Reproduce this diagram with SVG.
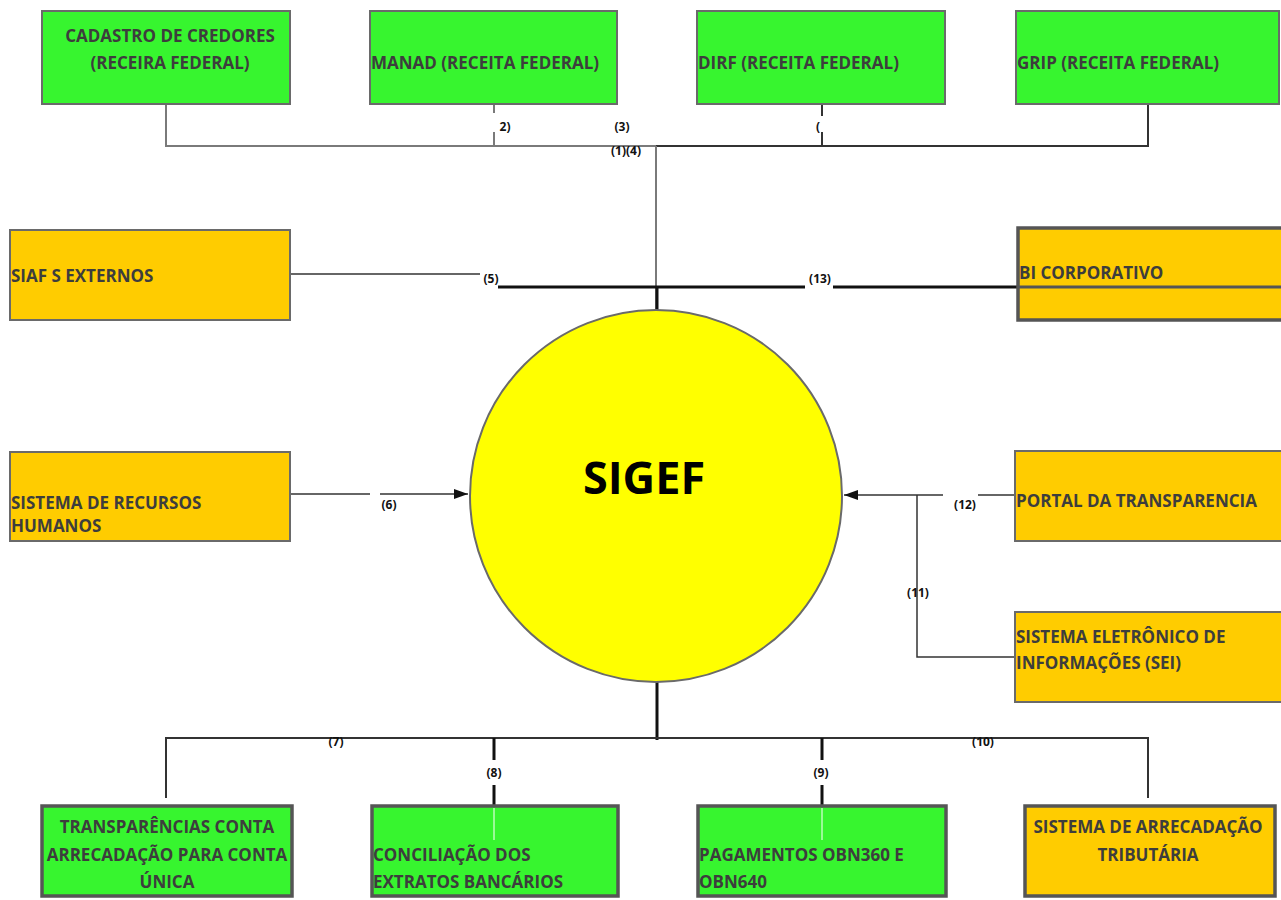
<svg xmlns="http://www.w3.org/2000/svg" width="1281" height="900" viewBox="0 0 1281 900">
<defs>
<style>
.green{fill:#37f52f;stroke:#6a6a6a;stroke-width:2}
.orange{fill:#ffcc00;stroke:#6a6a6a;stroke-width:2}
.thick{stroke:#555;stroke-width:3.5}
.t{font-family:"Open Sans","Liberation Sans",sans-serif;font-weight:bold;font-size:17px;fill:#3d3d3d}
.lbl{font-family:"Open Sans","Liberation Sans",sans-serif;font-weight:bold;font-size:12px;fill:#111}
.c{fill:none}
.gray{stroke:#7a7a7a;stroke-width:2}
.dark{stroke:#333;stroke-width:2}
.blk{stroke:#111;stroke-width:3}
.thin{stroke:#333;stroke-width:1.5}
</style>
<marker id="arr2" viewBox="0 0 14 10" refX="14" refY="5" markerWidth="14" markerHeight="10" markerUnits="userSpaceOnUse" orient="auto">
<path d="M0,0 L14,5 L0,10 z" fill="#111"/>
</marker>
</defs>
<rect width="1281" height="900" fill="#fff"/>

<g id="connectors" class="c">
<path class="gray" d="M166,104 V146 H656"/>
<path class="gray" d="M494,104 V113 M494,132 V146"/>
<path class="dark" d="M656,146 H1148 V104"/>
<path class="dark" d="M822,104 V116 M822,132 V146"/>
<path class="gray" d="M656,146 V310" stroke-width="3"/>
<path class="blk" d="M498,287 H805 M833,287 H1018"/>
<path class="blk" d="M657,287 V311"/>
<path class="thin" d="M290,274 H480"/>
<path class="thin" d="M290,494 H370"/>
<path class="thin" d="M380,494 H468" marker-end="url(#arr2)"/>
<path class="thin" d="M1015,495 H978"/>
<path class="thin" d="M943,495 H844" marker-end="url(#arr2)"/>
<path class="thin" d="M917,495 V657 H1015"/>
<path class="blk" d="M657,682 V740"/>
<path class="dark" d="M166,798 V738 H1148 V798" stroke-width="1.8"/>
<path class="blk" d="M494,738 V760 M494,785 V806"/>
<path class="blk" d="M822,738 V760 M822,785 V806"/>
<text class="lbl" x="505" y="131" text-anchor="middle">2)</text>
<text class="lbl" x="622" y="131" text-anchor="middle">(3)</text>
<text class="lbl" x="626" y="155" text-anchor="middle">(1)(4)</text>
<text class="lbl" x="818" y="131" text-anchor="middle">(</text>
<text class="lbl" x="491" y="283" text-anchor="middle">(5)</text>
<text class="lbl" x="820" y="283" text-anchor="middle">(13)</text>
<text class="lbl" x="389" y="509" text-anchor="middle">(6)</text>
<text class="lbl" x="965" y="509" text-anchor="middle">(12)</text>
<text class="lbl" x="918" y="597" text-anchor="middle">(11)</text>
<text class="lbl" x="336" y="746" text-anchor="middle">(7)</text>
<text class="lbl" x="494" y="777" text-anchor="middle">(8)</text>
<text class="lbl" x="821" y="777" text-anchor="middle">(9)</text>
<text class="lbl" x="983" y="746" text-anchor="middle">(10)</text>
</g>

<g id="sigef">
<circle cx="656" cy="496" r="186" fill="#ffff00" stroke="#6a6a6a" stroke-width="2"/>
<text x="644" y="494" text-anchor="middle" font-family="Open Sans, Liberation Sans, sans-serif" font-weight="bold" font-size="45" fill="#000">SIGEF</text>
</g>

<g id="cadastro">
<rect class="green" x="42" y="11" width="248" height="93"/>
<text class="t" x="170" y="42" text-anchor="middle">CADASTRO DE CREDORES</text>
<text class="t" x="170" y="69" text-anchor="middle">(RECEIRA FEDERAL)</text>
</g>
<g id="manad">
<rect class="green" x="370" y="11" width="247" height="93"/>
<text class="t" x="371" y="69">MANAD (RECEITA FEDERAL)</text>
</g>
<g id="dirf">
<rect class="green" x="697" y="11" width="248" height="93"/>
<text class="t" x="698" y="69">DIRF (RECEITA FEDERAL)</text>
</g>
<g id="grip">
<rect class="green" x="1016" y="11" width="263" height="93"/>
<text class="t" x="1017" y="69">GRIP (RECEITA FEDERAL)</text>
</g>

<g id="siafs">
<rect class="orange" x="10" y="230" width="280" height="90"/>
<text class="t" x="11" y="282">SIAF S EXTERNOS</text>
</g>
<g id="bi">
<rect class="orange thick" x="1018" y="228" width="266" height="92"/>
<path d="M1018,287 H1281" stroke="#555" stroke-width="3"/>
<text class="t" x="1019" y="279">BI CORPORATIVO</text>
</g>
<g id="rh">
<rect class="orange" x="10" y="452" width="280" height="89"/>
<text class="t" x="11" y="509">SISTEMA DE RECURSOS</text>
<text class="t" x="11" y="532">HUMANOS</text>
</g>
<g id="portal">
<rect class="orange" x="1015" y="451" width="268" height="90"/>
<text class="t" x="1016" y="507">PORTAL DA TRANSPARENCIA</text>
</g>
<g id="sei">
<rect class="orange" x="1015" y="612" width="268" height="90"/>
<text class="t" x="1016" y="643">SISTEMA ELETRÔNICO DE</text>
<text class="t" x="1016" y="669">INFORMAÇÕES (SEI)</text>
</g>

<g id="transparencias">
<rect class="green thick" x="42" y="806" width="250" height="90"/>
<text class="t" x="167" y="833" text-anchor="middle">TRANSPARÊNCIAS CONTA</text>
<text class="t" x="167" y="861" text-anchor="middle">ARRECADAÇÃO PARA CONTA</text>
<text class="t" x="167" y="888" text-anchor="middle">ÚNICA</text>
</g>
<g id="conciliacao">
<rect class="green thick" x="372" y="806" width="246" height="90"/>
<path d="M494,808 V840" stroke="#fff" stroke-width="1"/>
<text class="t" x="373" y="861">CONCILIAÇÃO DOS</text>
<text class="t" x="373" y="888">EXTRATOS BANCÁRIOS</text>
</g>
<g id="pagamentos">
<rect class="green thick" x="698" y="806" width="248" height="90"/>
<path d="M822,808 V840" stroke="#fff" stroke-width="1"/>
<text class="t" x="699" y="861">PAGAMENTOS OBN360 E</text>
<text class="t" x="699" y="888">OBN640</text>
</g>
<g id="arrecadacao">
<rect class="orange thick" x="1025" y="806" width="250" height="90"/>
<text class="t" x="1148" y="833" text-anchor="middle">SISTEMA DE ARRECADAÇÃO</text>
<text class="t" x="1148" y="861" text-anchor="middle">TRIBUTÁRIA</text>
</g>
</svg>
